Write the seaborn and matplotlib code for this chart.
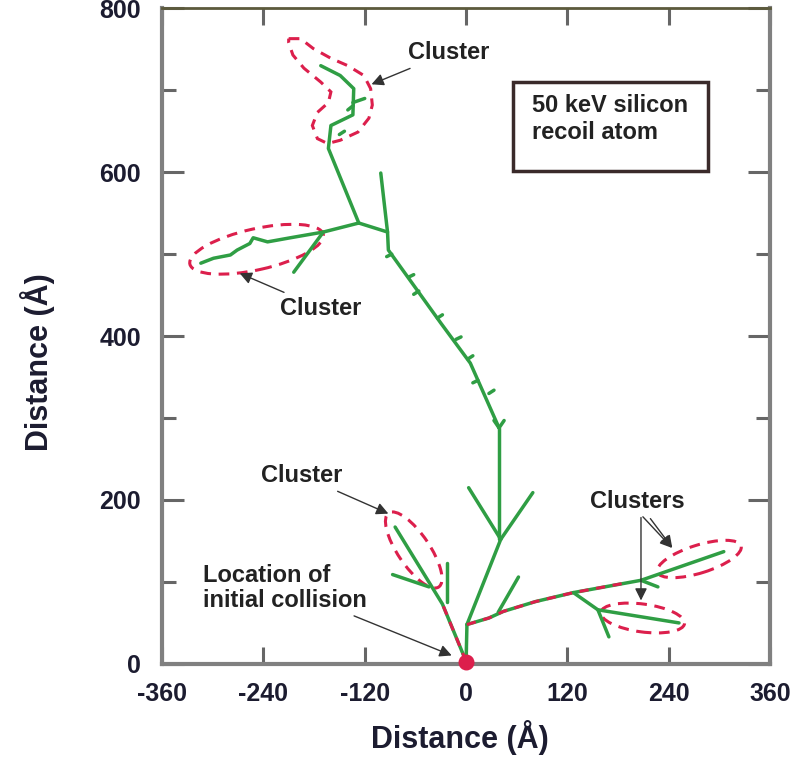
import pandas as pd
import matplotlib.pyplot as plt
import seaborn as sns
from matplotlib.patches import Ellipse, Polygon, Rectangle

# Recoil cascade branches (x, y in Angstrom)
stem_x = [0, 1]
stem_y = [3, 48]
trunk_low_x = [1, 41]
trunk_low_y = [48, 152]
vertical_x = [39, 39]
vertical_y = [152, 288]
fork_left_x = [41, 3]
fork_left_y = [152, 215]
fork_right_x = [41, 79]
fork_right_y = [152, 209]
right_x = [1, 27, 44, 82, 127, 207, 305]
right_y = [48, 56, 64, 76, 87, 102, 137]
right_up_x = [38, 62]
right_up_y = [63, 106]
right_stub_x = [207, 227]
right_stub_y = [102, 94]
right_down_x = [127, 156, 252]
right_down_y = [87, 66, 50]
right_drop_x = [156, 169]
right_drop_y = [66, 33]
left_low_x = [0, -28, -84]
left_low_y = [3, 73, 167]
left_stub_x = [-23, -23]
left_stub_y = [76, 123]
left_twig_x = [-44, -87]
left_twig_y = [94, 109]
mid_x = [39, 5, -30, -92, -93, -127]
mid_y = [288, 367, 416, 505, 527, 538]
mid_up_x = [-93, -101]
mid_up_y = [527, 599]
top_x = [-127, -163, -160, -134, -133, -149, -172]
top_y = [538, 629, 657, 670, 702, 718, 730]
top_twig_x = [-134, -120]
top_twig_y = [685, 690]
arm_x = [-127, -169, -208, -235, -252, -256, -271, -279, -299, -314]
arm_y = [538, 527, 520, 515, 520, 513, 505, 499, 495, 489]
arm_down_x = [-169, -204]
arm_down_y = [527, 478]
barb_x = [[-88, -94], [-68, -62], [-56, -62], [-34, -28], [-12, -6], [2, 8],
          [14, 8], [27, 33], [39, 33], [39, 45], [-150, -144], [-140, -134]]
barb_y = [[500, 497], [472, 475], [455, 451], [422, 426], [396, 399], [372, 376],
          [346, 343], [330, 334], [288, 297], [288, 297], [646, 650], [676, 681]]

branches = [(stem_x, stem_y), (trunk_low_x, trunk_low_y), (vertical_x, vertical_y),
            (fork_left_x, fork_left_y), (fork_right_x, fork_right_y), (right_x, right_y),
            (right_up_x, right_up_y), (right_stub_x, right_stub_y), (right_down_x, right_down_y),
            (right_drop_x, right_drop_y), (left_low_x, left_low_y), (left_stub_x, left_stub_y),
            (left_twig_x, left_twig_y), (mid_x, mid_y), (mid_up_x, mid_up_y), (top_x, top_y),
            (top_twig_x, top_twig_y), (arm_x, arm_y), (arm_down_x, arm_down_y)]
branches += list(zip(barb_x, barb_y))

# red dashed tracks near the origin
red_right_x = [1, 27, 44, 82, 127, 190]
red_right_y = [48, 56, 64, 76, 87, 99]
red_left_x = [0, -28]
red_left_y = [3, 73]

# cluster outlines: centre x, centre y, width, height, angle
clusters = [(-62, 139, 108, 38, 123), (-248, 506, 162, 50, 13),
            (276, 128, 104, 34, 18), (209, 56, 100, 34, -8)]
banana_x = [-210, -196, -181, -160, -140, -121, -113, -111, -115, -128, -149, -164,
            -176, -182, -176, -163, -160, -172, -192, -205, -210]
banana_y = [763, 763, 751, 739, 730, 718, 702, 682, 666, 649, 639, 635,
            641, 657, 673, 685, 698, 710, 727, 743, 758]

rows = []
for i, (xs, ys) in enumerate(branches):
    for x, y in zip(xs, ys):
        rows.append({'x': x, 'y': y, 'seg': i})
df = pd.DataFrame(rows)

red_rows = []
for i, (xs, ys) in enumerate([(red_right_x, red_right_y), (red_left_x, red_left_y)]):
    for x, y in zip(xs, ys):
        red_rows.append({'x': x, 'y': y, 'seg': i})
red_df = pd.DataFrame(red_rows)

sns.set_style('ticks')
plt.rcParams['font.family'] = ['Liberation Sans', 'DejaVu Sans']
plt.rcParams['axes.unicode_minus'] = False

green = '#2f9e44'
red = '#dc1f4c'

fig = plt.figure(figsize=(7.9, 7.57), dpi=100)
ax = fig.add_axes([0.205, 0.123, 0.77, 0.866])

sns.lineplot(data=df, x='x', y='y', units='seg', estimator=None, sort=False,
             color=green, lw=2.5, ax=ax)
sns.lineplot(data=red_df, x='x', y='y', units='seg', estimator=None, sort=False,
             color=red, lw=2.2, ax=ax, dashes=False, linestyle=(0, (3, 2.5)))

for cx, cy, w, h, a in clusters:
    ax.add_patch(Ellipse((cx, cy), w, h, angle=a, fill=False, ec=red, lw=2.2,
                         ls=(0, (3.5, 2.5))))
ax.add_patch(Polygon(list(zip(banana_x, banana_y)), closed=True, fill=False,
                     ec=red, lw=2.2, ls=(0, (3.5, 2.5))))
ax.scatter([0], [2], s=110, color=red, zorder=5, clip_on=False)

# annotations
txt = dict(fontsize=17, fontweight='bold', color='#222222')
arrow = dict(arrowstyle='-|>', color='#333333', lw=1, mutation_scale=18)
ax.annotate('Cluster', xy=(-115, 706), xytext=(-69, 746), va='center', ha='left',
            arrowprops=arrow, **txt)
ax.annotate('Cluster', xy=(-271, 478), xytext=(-220, 434), va='center', ha='left',
            arrowprops=arrow, **txt)
ax.annotate('Cluster', xy=(-89, 182), xytext=(-243, 230), va='center', ha='left',
            arrowprops=arrow, **txt)
ax.annotate('Location of\ninitial collision', xy=(-14, 9), xytext=(-312, 93),
            va='center', ha='left', linespacing=1.1, arrowprops=arrow, **txt)
ax.annotate('Clusters', xy=(246, 139), xytext=(147, 198), va='center', ha='left',
            arrowprops=arrow, **txt)
ax.annotate('', xy=(246, 139), xytext=(207, 182), arrowprops=arrow)
ax.annotate('', xy=(207, 74), xytext=(207, 182), arrowprops=arrow)

ax.add_patch(Rectangle((56, 602), 230, 108, fill=False, ec='#3a2a2a', lw=2.5))
ax.text(78, 681, '50 keV silicon', va='center', ha='left', **txt)
ax.text(78, 648, 'recoil atom', va='center', ha='left', **txt)

ax.set_xlim(-360, 360)
ax.set_ylim(0, 800)
ax.set_xticks(range(-360, 361, 120))
ax.set_yticks(range(0, 801, 200))
ax.set_yticks(range(100, 800, 200), minor=True)
ax.tick_params(axis='both', which='both', direction='in', top=True, right=True,
               color='#666666', width=2.2, labelsize=18, labelcolor='#1c1c30')
ax.tick_params(axis='x', which='major', length=12, pad=13)
ax.tick_params(axis='y', which='major', length=16, pad=15)
ax.tick_params(axis='y', which='minor', length=10)
for lab in ax.get_xticklabels() + ax.get_yticklabels():
    lab.set_fontweight('bold')

for side in ['left', 'bottom', 'right']:
    ax.spines[side].set_color('#808080')
    ax.spines[side].set_linewidth(3)
ax.spines['top'].set_color('#5c5a3c')
ax.spines['top'].set_linewidth(2)

ax.set_xlabel('Distance (Å)', fontsize=22, fontweight='bold', color='#1c1c30')
ax.set_ylabel('Distance (Å)', fontsize=22, fontweight='bold', color='#1c1c30')
ax.xaxis.set_label_coords(0.49, -0.085)
ax.yaxis.set_label_coords(-0.175, 0.46)

fig.savefig('out.png', dpi=100)
